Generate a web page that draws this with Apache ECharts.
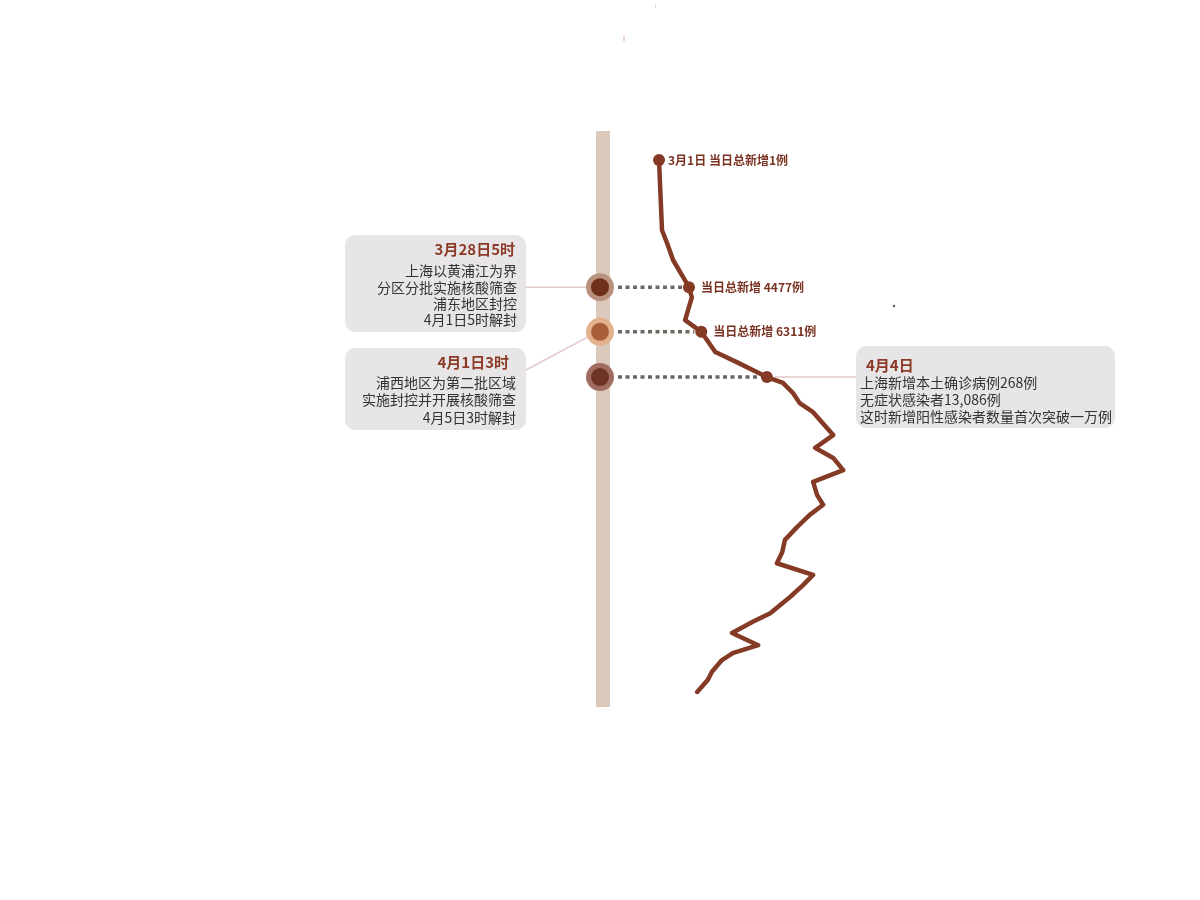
<!DOCTYPE html>
<html><head><meta charset="utf-8">
<script src="https://cdn.jsdelivr.net/npm/echarts@6/dist/echarts.min.js"></script>
<style>html,body{margin:0;padding:0;background:#fff;}#c{width:1200px;height:900px;}</style>
</head><body><div id="c"></div>
<script>
// timeline position (0 = 3月1日 at top, increasing downward)
const timelinePos = [0, 13.2, 15.6, 18.8, 22.0, 23.9, 25.8, 30.1, 32.3, 36.1, 38.0, 40.8,
  41.9, 43.8, 45.7, 47.4, 51.7, 54.1, 56.0, 58.3, 60.5, 63.0, 64.8, 66.7, 69.0, 71.4,
  73.7, 75.8, 78.0, 79.9, 82.1, 85.2, 86.8, 88.9, 91.2, 92.7, 94.0, 96.2, 97.7, 100];
// daily new cases (confirmed + asymptomatic)
const dailyNew = [1, 450, 1200, 2100, 3600, 4477, 4900, 3900, 6311, 8400, 11600, 16100,
  18500, 20000, 21000, 23000, 26000, 23300, 26000, 27500, 23000, 23600, 24500, 22500, 20600, 18800,
  18400, 17600, 23000, 21500, 19600, 16600, 14000, 10900, 14800, 11000, 9400, 7900, 7300, 5700];
// labelled points: index -> label
const pointLabels = {0: '3月1日 当日总新增1例', 5: '当日总新增 4477例', 8: '当日总新增 6311例', 11: ''};
const box1Title = '3月28日5时';
const box1Lines = ['上海以黄浦江为界', '分区分批实施核酸筛查', '浦东地区封控', '4月1日5时解封'];
const box2Title = '4月1日3时';
const box2Lines = ['浦西地区为第二批区域', '实施封控并开展核酸筛查', '4月5日3时解封'];
const box3Title = '4月4日';
const box3Lines = ['上海新增本土确诊病例268例', '无症状感染者13,086例', '这时新增阳性感染者数量首次突破一万例'];

const FONT = '"Noto Sans CJK SC", "Noto Sans", sans-serif';
const LINE = '#843a24';
const chart = echarts.init(document.getElementById('c'));

const seriesData = dailyNew.map((v, i) => {
  const item = { value: [v, timelinePos[i]] };
  if (pointLabels.hasOwnProperty(i)) {
    item.symbol = 'circle';
    item.symbolSize = 12;
    if (pointLabels[i]) {
      item.label = { show: true, position: 'right', distance: i === 0 ? 3 : 6,
        formatter: pointLabels[i], color: '#7a3322', fontWeight: 'bold', fontSize: 12, fontFamily: FONT };
    }
  } else {
    item.symbol = 'none';
  }
  return item;
});

chart.setOption({
  animation: false,
  backgroundColor: '#ffffff',
  grid: { left: 659, top: 160, width: 201, height: 532, containLabel: false },
  xAxis: { type: 'value', min: 0, max: 30000, show: false },
  yAxis: { type: 'value', min: 0, max: 100, inverse: true, show: false },
  series: [{
    type: 'line', data: seriesData, showAllSymbol: true, z: 5,
    lineStyle: { color: LINE, width: 4.5, join: 'round', cap: 'round' },
    itemStyle: { color: LINE },
    label: { show: false }
  }]
});

const px = i => chart.convertToPixel({ gridIndex: 0 }, [dailyNew[i], timelinePos[i]]);
const p5 = px(5), p8 = px(8), p11 = px(11);
const barX = 603;
const g = [];
// vertical timeline bar
g.push({ type: 'rect', shape: { x: 596, y: 131, width: 14, height: 576 }, style: { fill: '#dbc9bb' }, z: 1 });
// boxes
g.push({ type: 'rect', shape: { x: 345, y: 235, width: 181, height: 97, r: 10 }, style: { fill: '#e7e5e5' }, z: 1 });
g.push({ type: 'rect', shape: { x: 345, y: 348, width: 181, height: 82, r: 10 }, style: { fill: '#e7e5e5' }, z: 1 });
g.push({ type: 'rect', shape: { x: 856, y: 346, width: 259, height: 82, r: 10 }, style: { fill: '#e7e5e5' }, z: 1 });
// connectors
g.push({ type: 'line', shape: { x1: 526, y1: p5[1], x2: 588, y2: p5[1] }, style: { stroke: '#e3c9c7', lineWidth: 1.5 }, z: 2 });
g.push({ type: 'line', shape: { x1: 526, y1: 370, x2: 590, y2: p8[1] + 4 }, style: { stroke: '#e3c9c7', lineWidth: 1.5 }, z: 2 });
g.push({ type: 'line', shape: { x1: p11[0] + 8, y1: p11[1], x2: 856, y2: p11[1] }, style: { stroke: '#e3c9c7', lineWidth: 1.5 }, z: 2 });
// dotted links from bar to points
[p5, p8, p11].forEach(p => {
  g.push({ type: 'line', shape: { x1: barX + 15, y1: p[1], x2: p[0] - 7, y2: p[1] }, style: { stroke: '#6e665e', lineWidth: 3.5, lineDash: [4, 3.5] }, z: 3 });
});
// circles on the bar
const circ = [[p5, '#b8917f', '#6f2f1a'], [p8, '#e2b18e', '#a95f3a'], [p11, '#a06e60', '#6e3526']];
circ.forEach(([p, o, inn]) => {
  g.push({ type: 'circle', shape: { cx: 600, cy: p[1], r: 14 }, style: { fill: o }, z: 3 });
  g.push({ type: 'circle', shape: { cx: 600, cy: p[1], r: 9 }, style: { fill: inn }, z: 4 });
});
// texts
function txt(text, x, y, opts) {
  return { type: 'text', z: 6, style: Object.assign({
    text: text, x: x, y: y, fill: '#333333', fontFamily: FONT, fontSize: 14,
    align: 'right', textAlign: 'right', verticalAlign: 'top', textVerticalAlign: 'top'
  }, opts || {}) };
}
g.push(txt(box1Title, 515, 249, { fill: '#8a3a26', fontWeight: 'bold', fontSize: 15, verticalAlign: 'middle', textVerticalAlign: 'middle' }));
g.push(txt(box1Lines.join('\n'), 517, 263, { lineHeight: 16.3 }));
g.push(txt(box2Title, 509, 362, { fill: '#8a3a26', fontWeight: 'bold', fontSize: 15, verticalAlign: 'middle', textVerticalAlign: 'middle' }));
g.push(txt(box2Lines.join('\n'), 516, 374, { lineHeight: 17.3 }));
g.push(txt(box3Title, 866, 365, { fill: '#8a3a26', fontWeight: 'bold', fontSize: 15, align: 'left', textAlign: 'left', verticalAlign: 'middle', textVerticalAlign: 'middle' }));
g.push(txt(box3Lines.join('\n'), 860, 374.5, { lineHeight: 17, align: 'left', textAlign: 'left' }));
// small specks
g.push({ type: 'rect', shape: { x: 623, y: 36, width: 2, height: 5 }, style: { fill: '#eccfc8' }, z: 1 });
g.push({ type: 'rect', shape: { x: 655, y: 4, width: 1, height: 4 }, style: { fill: '#dddddd' }, z: 1 });
g.push({ type: 'circle', shape: { cx: 894, cy: 306, r: 1.2 }, style: { fill: '#555' }, z: 1 });

chart.setOption({ graphic: { elements: g } });
</script></body></html>
